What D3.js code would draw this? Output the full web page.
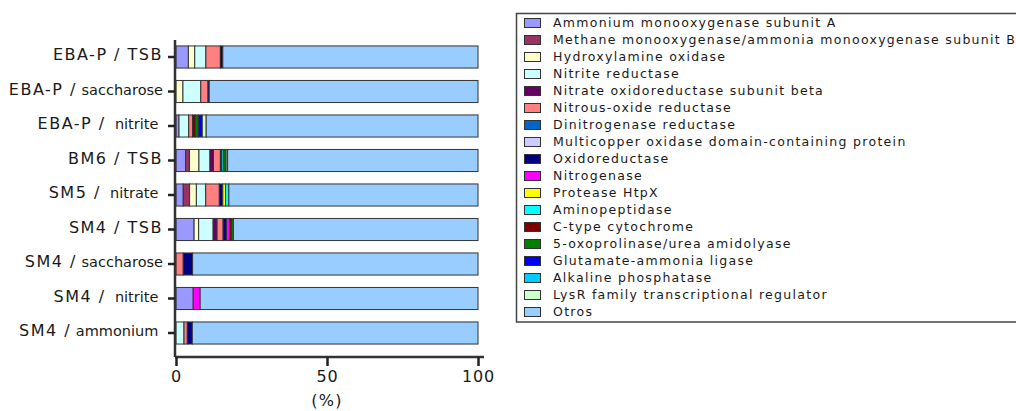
<!DOCTYPE html>
<html>
<head>
<meta charset="utf-8">
<script src="https://cdn.jsdelivr.net/npm/d3@7"></script>
<style>
  body { margin: 0; background: #fff; }
  text { font-family: "DejaVu Sans", Verdana, sans-serif; fill: #1a1a1a; }
</style>
</head>
<body>
<div id="container"></div>
<script>

// samples (top to bottom)
const samples = ["EBA-P / TSB", "EBA-P / saccharose", "EBA-P /  nitrite ", "BM6 / TSB",
  "SM5 /  nitrate ", "SM4 / TSB", "SM4 / saccharose", "SM4 /  nitrite ", "SM4 / ammonium "];

const names = ["Ammonium monooxygenase subunit A", "Methane monooxygenase/ammonia monooxygenase subunit B",
  "Hydroxylamine oxidase", "Nitrite reductase", "Nitrate oxidoreductase subunit beta",
  "Nitrous-oxide reductase", "Dinitrogenase reductase", "Multicopper oxidase domain-containing protein",
  "Oxidoreductase", "Nitrogenase", "Protease HtpX", "Aminopeptidase", "C-type cytochrome",
  "5-oxoprolinase/urea amidolyase", "Glutamate-ammonia ligase", "Alkaline phosphatase",
  "LysR family transcriptional regulator", "Otros"];

const colors = ["#9999FF", "#993366", "#FFFFCC", "#CCFFFF", "#660066", "#FF8080", "#0066CC", "#CCCCFF",
  "#000080", "#FF00FF", "#FFFF00", "#00FFFF", "#800000", "#008000", "#0000FF", "#00CCFF", "#CCFFCC", "#99CCFF"];

// % of each sample, one array per protein (same order as samples)
const ammoniumA     = [4.1, 0,   1.0, 3.2,  2.4,  6.0,  0,   5.7, 0];
const methane       = [0,   0,   0,   1.25, 2.1,  0,    0,   0,   0];
const hydroxylamine = [2.1, 2.3, 0,   3.15, 2.25, 1.5,  0,   0,   0];
const nitriteRed    = [3.7, 5.9, 3.2, 3.65, 3.1,  4.8,  0,   0,   2.65];
const nitrateOx     = [0,   0,   0,   1.15, 0,    1.3,  0,   0,   0];
const nitrousOx     = [4.8, 2.4, 1.3, 2.3,  4.5,  2.0,  2.4, 0,   1.1];
const dinitrogenase = [0,   0,   0,   0,    0,    0,    0,   0,   0];
const multicopper   = [0,   0,   0,   0,    0,    0,    0,   0,   0];
const oxidoreduct   = [0.8, 0.4, 0,   0.5,  1.15, 1.1,  3.1, 0,   1.65];
const nitrogenase   = [0,   0,   0,   0,    0,    1.1,  0,   2.3, 0];
const protease      = [0,   0,   0,   0,    0.9,  0,    0,   0,   0];
const aminopep      = [0,   0,   0,   0.6,  1.1,  0,    0,   0,   0];
const ctype         = [0,   0,   0.9, 0,    0,    0.55, 0,   0,   0];
const oxoprolinase  = [0,   0,   1.0, 0.8,  0,    0.65, 0,   0,   0];
const glutamate     = [0,   0,   1.3, 0,    0,    0,    0,   0,   0];
const alkaline      = [0,   0,   0,   0,    0,    0,    0,   0,   0];
const lysr          = [0,   0,   1.3, 0.5,  0,    0,    0,   0,   0];
const otros         = [84.5, 89.0, 90.0, 82.9, 82.5, 81.0, 94.5, 92.0, 94.6];

const xTicks = [0, 50, 100];

const seriesValues = [ammoniumA, methane, hydroxylamine, nitriteRed, nitrateOx, nitrousOx, dinitrogenase,
  multicopper, oxidoreduct, nitrogenase, protease, aminopep, ctype, oxoprolinase, glutamate, alkaline, lysr, otros];

const width = 1016, height = 411;

const table = samples.map((s, i) => {
  const row = { sample: s };
  names.forEach((n, k) => row[n] = seriesValues[k][i]);
  return row;
});

const stacked = d3.stack().keys(names)(table);

const svg = d3.create("svg")
    .attr("width", width)
    .attr("height", height);

const x = d3.scaleLinear().domain([0, 100]).range([176, 478]);
const y = d3.scaleBand().domain(samples).range([39.75, 350.25])
    .paddingInner(0.36).paddingOuter(0.18);

// bars
svg.append("g")
  .selectAll("g").data(stacked).join("g")
    .attr("fill", (d, i) => colors[i])
  .selectAll("rect").data(d => d.filter(p => p[1] - p[0] > 0)).join("rect")
    .attr("x", d => x(d[0]))
    .attr("y", d => y(d.data.sample))
    .attr("width", d => x(d[1]) - x(d[0]))
    .attr("height", y.bandwidth())
    .attr("stroke", "#333")
    .attr("stroke-width", 1);

// y axis
const yAxis = svg.append("g")
    .attr("transform", "translate(175,0)")
    .call(d3.axisLeft(y).tickSize(7).tickPadding(5));
yAxis.select(".domain").attr("d", "M0,40V357").attr("stroke", "#333").attr("stroke-width", 2.5);
yAxis.selectAll(".tick line").attr("stroke", "#222").attr("stroke-width", 2.5);

// strain part is wider-spaced, culture medium in lowercase a bit smaller
const yText = yAxis.selectAll(".tick text")
    .text(null)
    .attr("font-family", "DejaVu Sans")
    .attr("fill", "#1a1a1a")
    .style("white-space", "pre");
yText.append("tspan")
    .attr("font-size", 16)
    .attr("letter-spacing", 1.5)
    .text(d => d.slice(0, d.indexOf("/") + 1));
yText.append("tspan")
    .attr("font-size", d => /TSB/.test(d) ? 16 : 14.5)
    .attr("letter-spacing", d => /TSB/.test(d) ? 1.5 : 0)
    .text(d => d.slice(d.indexOf("/") + 1));

// x axis
const xAxis = svg.append("g")
    .attr("transform", "translate(0,357)")
    .call(d3.axisBottom(x).tickValues(xTicks).tickSize(9).tickPadding(5).tickSizeOuter(0));
xAxis.select(".domain").attr("d", "M175,0H484").attr("stroke", "#333").attr("stroke-width", 2.5);
xAxis.selectAll(".tick line").attr("stroke", "#222").attr("stroke-width", 2.5);
xAxis.selectAll(".tick text")
    .attr("font-size", 16)
    .attr("letter-spacing", 0.8)
    .attr("font-family", "DejaVu Sans")
    .attr("fill", "#1a1a1a");

svg.append("text")
    .attr("x", x(50)).attr("y", 406)
    .attr("text-anchor", "middle")
    .attr("font-size", 16)
    .attr("letter-spacing", 1.2)
    .text("(%)");

// legend
const leg = svg.append("g");
leg.append("rect")
    .attr("x", 516.5).attr("y", 13.5)
    .attr("width", 520).attr("height", 308.5)
    .attr("fill", "none").attr("stroke", "#444").attr("stroke-width", 1.5);

const item = leg.selectAll("g.item").data(names).join("g")
    .attr("class", "item")
    .attr("transform", (d, i) => `translate(0,${23 + i * 17})`);
item.append("rect")
    .attr("x", 524.5).attr("y", -4.5)
    .attr("width", 16).attr("height", 9)
    .attr("fill", (d, i) => colors[i])
    .attr("stroke", "#333").attr("stroke-width", 1);
item.append("text")
    .attr("x", 553).attr("y", 0)
    .attr("dy", "0.35em")
    .attr("font-size", 12.5)
    .attr("letter-spacing", 1.3)
    .text(d => d);

container.append(svg.node());
</script>
</body>
</html>
